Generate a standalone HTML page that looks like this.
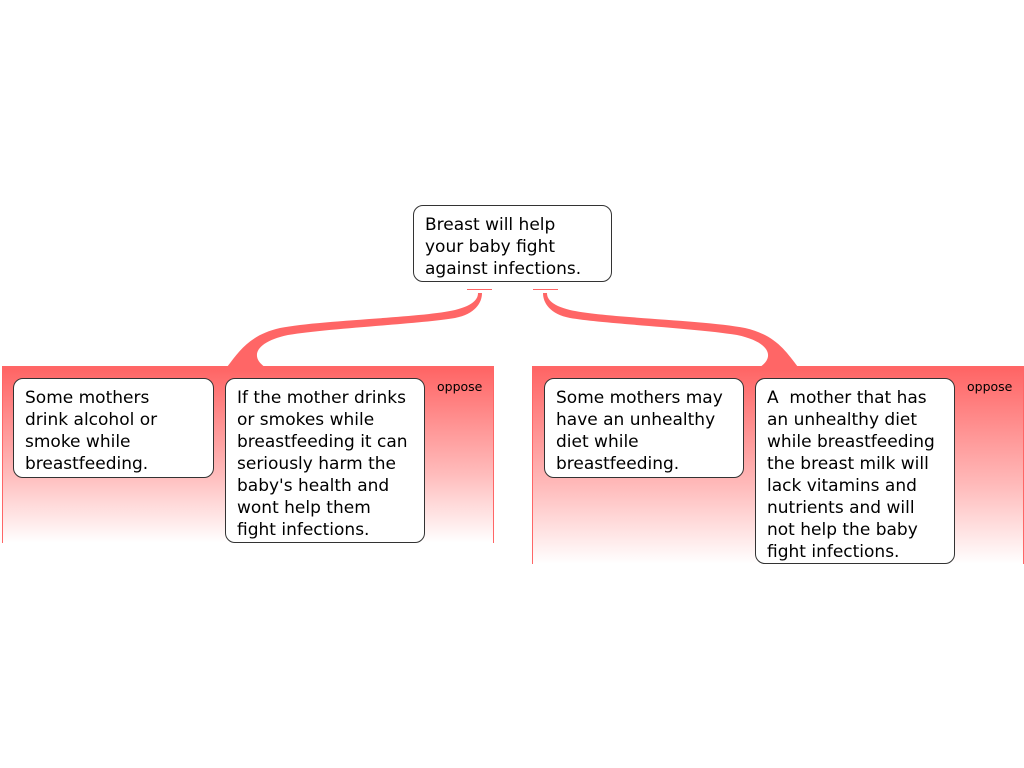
<!DOCTYPE html>
<html><head><meta charset="utf-8"><style>
body{margin:0;width:1024px;height:768px;background:#fff;position:relative;overflow:hidden;font-family:"DejaVu Sans","Liberation Sans",sans-serif}
.grp{position:absolute;top:366px;border-left:1px solid #f66;border-right:1px solid #f66;background:linear-gradient(rgba(255,102,102,1) 0px,rgba(255,102,102,1) 4px,rgba(255,102,102,0.45) 60%,rgba(255,102,102,0) 100%);box-sizing:border-box}
.box{position:absolute;background:#fff;border:1px solid #333;border-radius:10px;box-sizing:border-box;padding:8px 11px;font-size:17px;line-height:22px;color:#000;white-space:nowrap}
.op{position:absolute;font-size:12.5px;color:#000}
</style></head><body>
<svg width="1024" height="768" style="position:absolute;left:0;top:0">
<line x1="467" y1="289.5" x2="492" y2="289.5" stroke="#f66" stroke-width="1"/>
<line x1="533" y1="289.5" x2="558" y2="289.5" stroke="#f66" stroke-width="1"/>
<path d="M 227,367 C 240,350 250,335 280,328 C 320,320 420,318 455,310 C 475,305 478,298 478,293 L 482,293 C 482,303 475,314 455,318 C 420,324 330,328 288,335 C 255,342 250,357 265,367 Z" fill="#f66"/>
<path d="M 227,367 C 240,350 250,335 280,328 C 320,320 420,318 455,310 C 475,305 478,298 478,293 L 482,293 C 482,303 475,314 455,318 C 420,324 330,328 288,335 C 255,342 250,357 265,367 Z" fill="#f66" transform="translate(1025,0) scale(-1,1)"/>
</svg>
<div class="grp" style="left:2px;width:492px;height:177px"></div>
<div class="grp" style="left:532px;width:492px;height:198px"></div>
<div class="box" style="left:413px;top:205px;width:199px;height:77px">Breast will help<br>your baby fight<br>against infections.</div>
<div class="box" style="left:13px;top:378px;width:201px;height:100px">Some mothers<br>drink alcohol or<br>smoke while<br>breastfeeding.</div>
<div class="box" style="left:225px;top:378px;width:200px;height:165px">If the mother drinks<br>or smokes while<br>breastfeeding it can<br>seriously harm the<br>baby's health and<br>wont help them<br>fight infections.</div>
<div class="op" style="left:437px;top:379px">oppose</div>
<div class="box" style="left:544px;top:378px;width:200px;height:100px">Some mothers may<br>have an unhealthy<br>diet while<br>breastfeeding.</div>
<div class="box" style="left:755px;top:378px;width:200px;height:186px">A&nbsp; mother that has<br>an unhealthy diet<br>while breastfeeding<br>the breast milk will<br>lack vitamins and<br>nutrients and will<br>not help the baby<br>fight infections.</div>
<div class="op" style="left:967px;top:379px">oppose</div>
</body></html>
